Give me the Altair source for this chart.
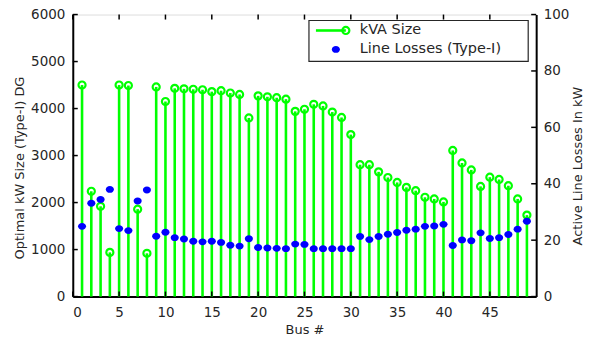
import altair as alt
import pandas as pd

# ---------------- data ----------------
bus = list(range(1, 50))
kva_size = [4500, 2240, 1920, 940, 4500, 4490, 1860, 920, 4460, 4150,
            4430, 4420, 4410, 4400, 4360, 4380, 4330, 4300, 3800, 4270,
            4250, 4230, 4200, 3940, 3985, 4090, 4056, 3925, 3810, 3446,
            2805, 2805, 2653, 2533, 2428, 2323, 2253, 2112, 2077, 2014,
            3109, 2842, 2695, 2344, 2540, 2491, 2358, 2077, 1733]
line_losses = [24.9, 33.1, 34.4, 38.0, 24.1, 23.4, 33.9, 37.8, 21.4, 22.8,
               20.9, 20.4, 19.6, 19.4, 19.6, 19.2, 18.2, 17.9, 20.5, 17.4,
               17.2, 17.1, 17.0, 18.6, 18.5, 17.0, 17.0, 17.0, 17.0, 17.0,
               21.3, 20.2, 21.3, 22.1, 22.7, 23.5, 23.9, 24.9, 25.0, 25.6,
               18.1, 20.1, 19.8, 22.6, 20.6, 20.9, 22.0, 23.9, 26.7]
x_ticks = [0, 5, 10, 15, 20, 25, 30, 35, 40, 45]
left_ticks = [0, 1000, 2000, 3000, 4000, 5000, 6000]
right_ticks = [0, 20, 40, 60, 80, 100]
legend_labels = ["kVA Size", "Line Losses (Type-I)"]

W, H = 465, 283
FONT = "DejaVu Sans"
GREEN = "#00FF00"
BLUE = "#0000FF"
TXT = "#262626"

df = pd.DataFrame({"bus": bus, "kva": kva_size, "loss": line_losses})
xdf = pd.DataFrame({"bus": x_ticks})
ldf = pd.DataFrame({"kva": left_ticks})
rdf = pd.DataFrame({"loss": right_ticks})

xsc = alt.Scale(domain=[0, 50], nice=False, zero=False)
ylsc = alt.Scale(domain=[0, 6000], nice=False)
yrsc = alt.Scale(domain=[0, 100], nice=False)

common = dict(tickSize=0, grid=False, domainColor="black", domainWidth=2,
              labelFontSize=13.5, titleFontSize=13, labelColor=TXT,
              titleColor=TXT, labelFont=FONT, titleFont=FONT,
              titleFontWeight="normal", format="d")
xaxis = alt.Axis(values=x_ticks, title="Bus #", labelPadding=9,
                 titlePadding=5, **common)
ylaxis = alt.Axis(values=left_ticks, title="Optimal kW Size (Type-I) DG",
                  labelPadding=8, titlePadding=4, titleY=H / 2 + 12, **common)
yraxis = alt.Axis(values=right_ticks, title="Active Line Losses In kW",
                  orient="right", labelPadding=7, titlePadding=3,
                  titleAngle=270, titleBaseline="top", titleY=H / 2 + 10,
                  **common)

X = alt.X("bus:Q", scale=xsc, axis=xaxis)

stems = alt.Chart(df).mark_rule(color=GREEN, strokeWidth=2.6).encode(
    x=X, y=alt.Y("kva:Q", scale=ylsc, axis=ylaxis), y2=alt.datum(0))
circles = alt.Chart(df).mark_point(shape="circle", filled=False, color=GREEN,
                                   strokeWidth=2.2, size=50, opacity=1).encode(
    x=X, y=alt.Y("kva:Q", scale=ylsc, axis=ylaxis))

bot_ticks = alt.Chart(xdf).mark_rule(color="black", strokeWidth=1.5).encode(
    x=X, y=alt.value(H), y2=alt.value(H - 5))
top_ticks = alt.Chart(xdf).mark_rule(color="black", strokeWidth=1.5).encode(
    x=X, y=alt.value(0), y2=alt.value(5))
l_ticks = alt.Chart(ldf).mark_rule(color="black", strokeWidth=1.5).encode(
    y=alt.Y("kva:Q", scale=ylsc, axis=ylaxis), x=alt.value(0), x2=alt.value(5))

left = alt.layer(stems, circles, bot_ticks, top_ticks, l_ticks)

ell = "M-1,0A1,0.85,0,1,0,1,0A1,0.85,0,1,0,-1,0Z"
dots = alt.Chart(df).mark_point(shape=ell, filled=True, color=BLUE, size=66,
                                opacity=1).encode(
    x=X, y=alt.Y("loss:Q", scale=yrsc, axis=yraxis))
r_ticks = alt.Chart(rdf).mark_rule(color="black", strokeWidth=1.5).encode(
    y=alt.Y("loss:Q", scale=yrsc, axis=yraxis), x=alt.value(W), x2=alt.value(W - 5))

right = alt.layer(dots, r_ticks)

# ---------------- legend ----------------
one = pd.DataFrame({"k": [0]})
lx0, lx1, ly0, ly1 = 237, 457, 6, 47
box = alt.Chart(one).mark_rect(fill="white", stroke="#262626", strokeWidth=1.2).encode(
    x=alt.value(lx0), x2=alt.value(lx1), y=alt.value(ly0), y2=alt.value(ly1))
leg_line = alt.Chart(one).mark_rule(color=GREEN, strokeWidth=2.6).encode(
    x=alt.value(244), x2=alt.value(274), y=alt.value(16))
leg_circ = alt.Chart(one).mark_point(shape="circle", filled=False, color=GREEN,
                                     strokeWidth=2.2, size=50, opacity=1).encode(
    x=alt.value(274), y=alt.value(16))
leg_dot = alt.Chart(one).mark_point(shape=ell, filled=True, color=BLUE, size=66,
                                    opacity=1).encode(
    x=alt.value(264), y=alt.value(35))
leg_t1 = alt.Chart(one).mark_text(text=legend_labels[0], align="left", baseline="middle",
                                  font=FONT, fontSize=14.5, color=TXT).encode(
    x=alt.value(288), y=alt.value(16))
leg_t2 = alt.Chart(one).mark_text(text=legend_labels[1], align="left", baseline="middle",
                                  font=FONT, fontSize=14.5, color=TXT).encode(
    x=alt.value(288), y=alt.value(35))
legend = alt.layer(box, leg_line, leg_circ, leg_dot, leg_t1, leg_t2)

chart = alt.layer(left, right, legend).resolve_scale(y="independent").properties(
    width=W, height=H,
    autosize=alt.AutoSizeParams(type="none"),
    padding={"left": 65, "top": 6, "right": 50, "bottom": 40},
).configure_view(stroke="black", strokeWidth=2).configure(background="white")

chart.save("out.html", embed_options={"renderer": "svg", "actions": False})
